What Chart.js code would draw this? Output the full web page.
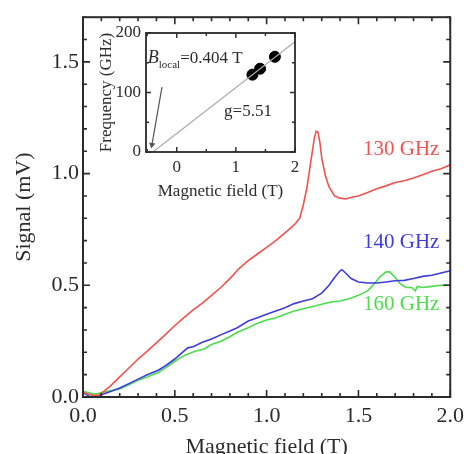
<!DOCTYPE html>
<html lang="en">
<head>
<meta charset="UTF-8">
<title>Signal vs magnetic field</title>
<script src="https://cdn.jsdelivr.net/npm/chart.js"></script>
<style>
  body { margin: 0; background: #fff; }
  .wrap { position: relative; width: 470px; height: 454px; overflow: hidden; }
  .wrap canvas { position: absolute; left: 0; top: 0; }
</style>
</head>
<body>
<div class="wrap">
  <canvas id="mainChart" width="470" height="454"></canvas>
  <canvas id="insetChart" width="470" height="454"></canvas>
</div>
<script>
// main panel: signal (mV) vs field (T)
var redX = [0.00, 0.03, 0.06, 0.09, 0.12, 0.15, 0.20, 0.25, 0.30, 0.35, 0.41, 0.45, 0.50, 0.55, 0.60, 0.65, 0.70, 0.75, 0.80, 0.85, 0.90, 0.95, 1.00, 1.05, 1.10, 1.15, 1.18, 1.20, 1.22, 1.24, 1.26, 1.27, 1.28, 1.29, 1.30, 1.32, 1.34, 1.37, 1.40, 1.43, 1.47, 1.50, 1.55, 1.60, 1.65, 1.70, 1.75, 1.80, 1.85, 1.90, 1.95, 2.00];
var redY = [0.02, 0.012, 0.006, 0.01, 0.03, 0.05, 0.09, 0.13, 0.17, 0.205, 0.25, 0.28, 0.32, 0.355, 0.39, 0.42, 0.455, 0.49, 0.53, 0.575, 0.61, 0.64, 0.67, 0.70, 0.735, 0.77, 0.80, 0.86, 0.94, 1.05, 1.16, 1.19, 1.185, 1.14, 1.07, 0.99, 0.94, 0.90, 0.89, 0.886, 0.895, 0.90, 0.915, 0.932, 0.945, 0.96, 0.968, 0.98, 0.995, 1.01, 1.022, 1.04];

var blueX = [0.00, 0.03, 0.05, 0.08, 0.10, 0.15, 0.20, 0.25, 0.30, 0.35, 0.41, 0.45, 0.50, 0.57, 0.60, 0.65, 0.70, 0.75, 0.80, 0.84, 0.90, 0.95, 1.00, 1.05, 1.10, 1.15, 1.20, 1.25, 1.30, 1.34, 1.37, 1.40, 1.41, 1.43, 1.46, 1.50, 1.55, 1.60, 1.65, 1.70, 1.75, 1.80, 1.85, 1.90, 1.95, 2.00];
var blueY = [0.02, 0.005, -0.005, 0.0, 0.01, 0.025, 0.04, 0.06, 0.08, 0.10, 0.12, 0.14, 0.17, 0.22, 0.225, 0.245, 0.26, 0.278, 0.295, 0.31, 0.34, 0.355, 0.37, 0.385, 0.40, 0.418, 0.43, 0.44, 0.465, 0.50, 0.535, 0.565, 0.57, 0.555, 0.53, 0.515, 0.51, 0.51, 0.515, 0.52, 0.522, 0.53, 0.54, 0.545, 0.555, 0.565];

var greenX = [0.00, 0.03, 0.05, 0.08, 0.10, 0.15, 0.20, 0.25, 0.30, 0.35, 0.41, 0.45, 0.50, 0.55, 0.61, 0.66, 0.70, 0.75, 0.80, 0.84, 0.90, 0.95, 1.00, 1.05, 1.10, 1.15, 1.20, 1.25, 1.30, 1.35, 1.40, 1.45, 1.50, 1.55, 1.59, 1.62, 1.65, 1.67, 1.70, 1.73, 1.76, 1.79, 1.81, 1.82, 1.85, 1.90, 1.95, 2.00];
var greenY = [0.025, 0.02, 0.013, 0.015, 0.02, 0.028, 0.036, 0.055, 0.075, 0.09, 0.11, 0.13, 0.16, 0.185, 0.205, 0.215, 0.235, 0.25, 0.27, 0.29, 0.31, 0.33, 0.345, 0.355, 0.37, 0.385, 0.395, 0.405, 0.415, 0.425, 0.43, 0.44, 0.455, 0.475, 0.51, 0.54, 0.56, 0.56, 0.535, 0.505, 0.49, 0.49, 0.475, 0.495, 0.49, 0.495, 0.50, 0.50];

var xTicks = [0, 0.5, 1, 1.5, 2];
var yTicks = [0, 0.5, 1, 1.5];

var seriesNames = ['130 GHz', '140 GHz', '160 GHz'];
var labelX = [1.733, 1.733, 1.733];
var labelY = [1.11, 0.69, 0.413];

// inset: resonance frequency vs field
var peakField = [1.28, 1.41, 1.66];
var peakFreq = [130, 140, 160];
var fitX = [-0.404, 2.0];
var fitY = [0, 185.5];
var arrowX = [-0.25, -0.42];
var arrowY = [109, 12];
var insetXTicks = [0, 1, 2];
var insetYTicks = [0, 100, 200];

var serif = 'Liberation Serif';
var ink = '#2b2b2b';

function pts(xs, ys) {
    return xs.map(function (x, i) { return { x: x, y: ys[i] }; });
}

function steps(from, to, step) {
    var out = [];
    for (var v = from; v <= to + 1e-9; v += step) out.push(Math.round(v * 1000) / 1000);
    return out;
}

// frame with inward ticks on all four sides
var boxTicks = {
    id: 'boxTicks',
    beforeDraw: function (chart, args, o) {
        if (!o.fill) return;
        var a = chart.chartArea, ctx = chart.ctx;
        ctx.save();
        ctx.fillStyle = o.fill;
        ctx.fillRect(a.left, a.top, a.right - a.left, a.bottom - a.top);
        ctx.restore();
    },
    afterDraw: function (chart, args, o) {
        var a = chart.chartArea, ctx = chart.ctx;
        var sx = chart.scales.x, sy = chart.scales.y;
        ctx.save();
        ctx.strokeStyle = ink;
        ctx.lineWidth = o.width;
        ctx.strokeRect(a.left, a.top, a.right - a.left, a.bottom - a.top);
        ctx.lineWidth = o.width * 0.8;
        ctx.beginPath();
        function xt(list, len) {
            list.forEach(function (v) {
                var p = sx.getPixelForValue(v);
                ctx.moveTo(p, a.bottom); ctx.lineTo(p, a.bottom - len);
                ctx.moveTo(p, a.top); ctx.lineTo(p, a.top + len);
            });
        }
        function yt(list, len) {
            list.forEach(function (v) {
                var p = sy.getPixelForValue(v);
                ctx.moveTo(a.left, p); ctx.lineTo(a.left + len, p);
                ctx.moveTo(a.right, p); ctx.lineTo(a.right - len, p);
            });
        }
        xt(o.xMajor, o.major); xt(o.xMinor, o.minor);
        yt(o.yMajor, o.major); yt(o.yMinor, o.minor);
        ctx.stroke();
        ctx.restore();
    }
};

var seriesLabels = {
    id: 'seriesLabels',
    afterDatasetsDraw: function (chart) {
        var ctx = chart.ctx, sx = chart.scales.x, sy = chart.scales.y;
        ctx.save();
        ctx.font = '21px "' + serif + '"';
        ctx.textAlign = 'center';
        ctx.textBaseline = 'middle';
        seriesNames.forEach(function (name, i) {
            ctx.fillStyle = chart.data.datasets[i].borderColor;
            ctx.fillText(name, sx.getPixelForValue(labelX[i]), sy.getPixelForValue(labelY[i]));
        });
        ctx.restore();
    }
};

var insetText = {
    id: 'insetText',
    afterDatasetsDraw: function (chart) {
        var ctx = chart.ctx, sx = chart.scales.x, sy = chart.scales.y;
        ctx.save();
        ctx.fillStyle = ink;
        ctx.textBaseline = 'alphabetic';
        var x0 = sx.getPixelForValue(-0.49), y0 = sy.getPixelForValue(150);
        ctx.font = 'italic 18px "' + serif + '"';
        ctx.fillText('B', x0, y0);
        var w = ctx.measureText('B').width;
        ctx.font = '11px "' + serif + '"';
        ctx.fillText('local', x0 + w, y0 + 5);
        var w2 = ctx.measureText('local').width;
        ctx.font = '17px "' + serif + '"';
        ctx.fillText('=0.404 T', x0 + w + w2, y0);
        ctx.fillText('g=5.51', sx.getPixelForValue(0.8), sy.getPixelForValue(60));
        ctx.restore();
    }
};

function lineSet(xs, ys, color) {
    return {
        data: pts(xs, ys),
        borderColor: color,
        borderWidth: 1.6,
        showLine: true,
        pointRadius: 0,
        tension: 0
    };
}

new Chart(document.getElementById('mainChart'), {
    type: 'scatter',
    data: {
        datasets: [
            lineSet(redX, redY, '#f0524f'),
            lineSet(blueX, blueY, '#3d3ddc'),
            lineSet(greenX, greenY, '#4cdc4c')
        ]
    },
    options: {
        responsive: false,
        animation: false,
        layout: { padding: { left: 0, right: 13, top: 15, bottom: -6 } },
        plugins: {
            legend: { display: false },
            tooltip: { enabled: false },
            boxTicks: {
                width: 2, major: 7, minor: 4,
                xMajor: xTicks, xMinor: steps(0, 2, 0.1),
                yMajor: yTicks, yMinor: steps(0, 1.7, 0.1)
            }
        },
        scales: {
            x: {
                type: 'linear', min: 0, max: 2,
                afterBuildTicks: function (s) { s.ticks = xTicks.map(function (v) { return { value: v }; }); },
                afterFit: function (s) { s.height = 63; },
                grid: { display: false, drawTicks: false },
                border: { display: false },
                ticks: {
                    padding: 6, color: ink, maxRotation: 0, autoSkip: false,
                    font: { family: serif, size: 22 },
                    callback: function (v) { return Number(v).toFixed(1); }
                },
                title: {
                    display: true, text: 'Magnetic field (T)', color: ink,
                    font: { family: serif, size: 22 }, padding: { top: 0, bottom: 0 }
                }
            },
            y: {
                type: 'linear', min: 0, max: 1.7,
                afterBuildTicks: function (s) { s.ticks = yTicks.map(function (v) { return { value: v }; }); },
                afterFit: function (s) { s.width = 83; },
                grid: { display: false, drawTicks: false },
                border: { display: false },
                ticks: {
                    padding: 4, color: ink,
                    font: { family: serif, size: 22 },
                    callback: function (v) { return Number(v).toFixed(1); }
                },
                title: {
                    display: true, text: 'Signal (mV)', color: ink,
                    font: { family: serif, size: 22 }, padding: { top: 11, bottom: 0 }
                }
            }
        }
    },
    plugins: [boxTicks, seriesLabels]
});

new Chart(document.getElementById('insetChart'), {
    type: 'scatter',
    data: {
        datasets: [
            {
                data: pts(fitX, fitY), showLine: true, borderColor: '#aaaaaa',
                borderWidth: 1.2, pointRadius: 0
            },
            {
                data: pts(arrowX, arrowY), showLine: true, borderColor: '#555555',
                borderWidth: 1.2, pointRadius: [0, 2.5], pointStyle: 'triangle',
                pointRotation: [0, 190], backgroundColor: '#555555'
            },
            {
                data: pts(peakField, peakFreq), showLine: false,
                pointRadius: 5.5, backgroundColor: '#000', borderColor: '#000'
            }
        ]
    },
    options: {
        responsive: false,
        animation: false,
        layout: { padding: { left: 95, right: 175, top: 33, bottom: 252 } },
        plugins: {
            legend: { display: false },
            tooltip: { enabled: false },
            boxTicks: {
                fill: '#ffffff', width: 1.8, major: 5, minor: 3,
                xMajor: insetXTicks, xMinor: [-0.5, 0.5, 1.5],
                yMajor: insetYTicks, yMinor: [50, 150]
            }
        },
        scales: {
            x: {
                type: 'linear', min: -0.52, max: 2,
                afterBuildTicks: function (s) { s.ticks = insetXTicks.map(function (v) { return { value: v }; }); },
                afterFit: function (s) { s.height = 50; },
                grid: { display: false, drawTicks: false },
                border: { display: false },
                ticks: { padding: 5, color: ink, maxRotation: 0, autoSkip: false, font: { family: serif, size: 17 } },
                title: {
                    display: true, text: 'Magnetic field (T)', color: ink,
                    font: { family: serif, size: 17 }, padding: { top: 4, bottom: 0 }
                }
            },
            y: {
                type: 'linear', min: 0, max: 200,
                afterBuildTicks: function (s) { s.ticks = insetYTicks.map(function (v) { return { value: v }; }); },
                afterFit: function (s) { s.width = 51; },
                grid: { display: false, drawTicks: false },
                border: { display: false },
                ticks: { padding: 5, color: ink, font: { family: serif, size: 17 } },
                title: {
                    display: true, text: 'Frequency (GHz)', color: ink,
                    font: { family: serif, size: 17 }, padding: { top: 1, bottom: 0 }
                }
            }
        }
    },
    plugins: [boxTicks, insetText]
});
</script>
</body>
</html>
